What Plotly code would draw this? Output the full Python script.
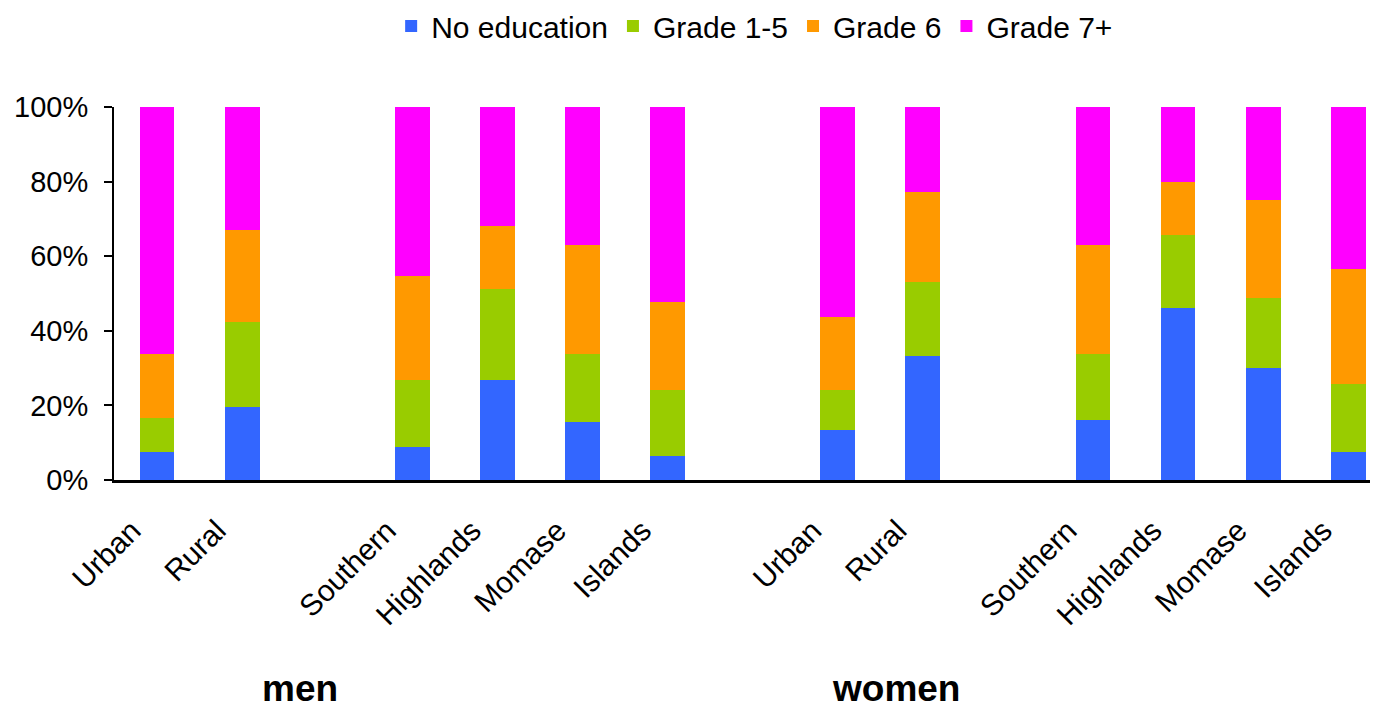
import plotly.graph_objects as go

# Categories (blank slots separate the groups)
categories = ["Urban", "Rural", "", "Southern", "Highlands", "Momase", "Islands", "",
              "Urban", "Rural", "", "Southern", "Highlands", "Momase", "Islands"]

series_names = ["No education", "Grade 1-5", "Grade 6", "Grade 7+"]
colors = ["#3366FF", "#99CC00", "#FF9900", "#FF00FF"]

# Values in percent (None for blank slots)
no_education = [7.4, 19.5, None, 8.8, 26.9, 15.5, 6.5, None, 13.5, 33.2, None, 16.2, 46.2, 30.0, 7.4]
grade_1_5    = [9.3, 22.8, None, 18.1, 24.2, 18.4, 17.7, None, 10.7, 20.0, None, 17.7, 19.4, 18.9, 18.4]
grade_6      = [17.2, 24.7, None, 27.8, 17.1, 29.0, 23.5, None, 19.4, 24.0, None, 29.0, 14.3, 26.3, 30.9]
grade_7plus  = [66.1, 33.0, None, 45.3, 31.8, 37.1, 52.3, None, 56.4, 22.8, None, 37.1, 20.1, 24.8, 43.3]

group_labels = ["men", "women"]
group_centers = [1.68, 8.68]

series_values = [no_education, grade_1_5, grade_6, grade_7plus]
xpos = list(range(len(categories)))

fig = go.Figure()
for name, vals, col in zip(series_names, series_values, colors):
    fig.add_trace(go.Bar(
        x=xpos,
        y=[v / 100 if v is not None else None for v in vals],
        name=name,
        marker=dict(color=col, line=dict(width=0)),
        width=0.41,
    ))

font_family = "Liberation Sans, Arial, sans-serif"

# page body adds an 8px margin, so the figure is sized 8px smaller
fig.update_layout(
    barmode="stack",
    width=1370,
    height=706,
    margin=dict(l=106, r=0, t=99, b=234, autoexpand=False),
    paper_bgcolor="white",
    plot_bgcolor="white",
    font=dict(family=font_family, size=29, color="black"),
    showlegend=True,
    legend=dict(
        orientation="h",
        xref="container", yref="container",
        x=0.545, xanchor="center",
        y=0.9745, yanchor="middle",
        font=dict(size=30),
        itemsizing="constant",
        traceorder="normal",
        itemwidth=30,
        tracegroupgap=0,
    ),
    xaxis=dict(
        range=[-0.505, 14.35],
        tickmode="array",
        tickvals=xpos,
        ticktext=categories,
        tickangle=-45,
        showline=True,
        linecolor="black",
        linewidth=3,
        ticks="",
        showgrid=False,
        zeroline=False,
        ticklabelstandoff=18,
        ticklabelshift=-25,
        tickfont=dict(size=30),
    ),
    yaxis=dict(
        range=[0, 1],
        tickvals=[0, 0.2, 0.4, 0.6, 0.8, 1.0],
        tickformat=".0%",
        showline=True,
        linecolor="black",
        linewidth=2,
        ticks="outside",
        ticklen=8,
        tickwidth=2,
        tickcolor="black",
        showgrid=False,
        zeroline=False,
        ticklabelstandoff=10,
        tickfont=dict(size=29),
    ),
)

for lbl, cx in zip(group_labels, group_centers):
    fig.add_annotation(
        x=cx, xref="x",
        y=-0.62, yref="paper",
        text="<b>" + lbl + "</b>",
        showarrow=False,
        font=dict(size=37, family=font_family, color="black"),
        xanchor="center", yanchor="bottom",
    )

fig.write_html("out.html")
